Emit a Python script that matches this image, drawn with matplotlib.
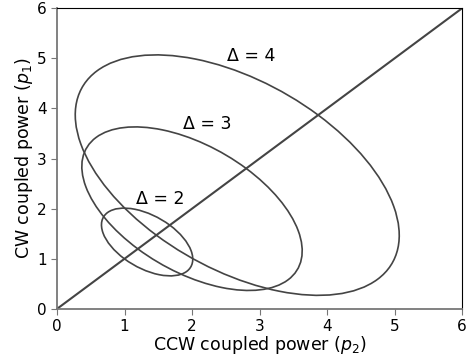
import matplotlib
matplotlib.use("Agg")
import matplotlib.pyplot as plt
from matplotlib.patches import Ellipse

# ellipse data (units of coupled power)
deltas = [2, 3, 4]
centers = [1.335, 2.0, 2.67]        # centre sits on the diagonal p1 = p2
diag_axis = [0.95, 2.27, 3.39]      # full length along the diagonal
anti_axis = [1.66, 4.02, 5.88]      # full length across the diagonal
label_xy = [(1.53, 2.19), (2.22, 3.69), (2.88, 5.05)]

diag_x = [0, 6]
diag_y = [0, 6]

fig = plt.figure(figsize=(4.71, 3.6), dpi=100)
ax = fig.add_axes([0.121, 0.142, 0.860, 0.835])

line_col = "#444444"
for d, c, w, h, (lx, ly) in zip(deltas, centers, diag_axis, anti_axis, label_xy):
    e = Ellipse((c, c), width=w, height=h, angle=45, fill=False,
                edgecolor=line_col, linewidth=1.2)
    ax.add_patch(e)
    ax.text(lx, ly, "Δ = {}".format(d), ha="center", va="center", fontsize=12.5)

ax.plot(diag_x, diag_y, color=line_col, linewidth=1.5)

ax.set_xlim(0, 6)
ax.set_ylim(0, 6)
ax.set_xticks(range(7))
ax.set_yticks(range(7))
ax.set_xlabel("CCW coupled power ($p_2$)", fontsize=12.5, labelpad=0)
ax.set_ylabel("CW coupled power ($p_1$)", fontsize=12.5, labelpad=1)

# left/bottom spines are grey in the original, top/right black
for s in ["left", "bottom"]:
    ax.spines[s].set_color("#777777")
    ax.spines[s].set_linewidth(1.3)
ax.tick_params(colors="#777777", labelcolor="black", labelsize=11, length=4)

fig.savefig("out.png", dpi=100)
